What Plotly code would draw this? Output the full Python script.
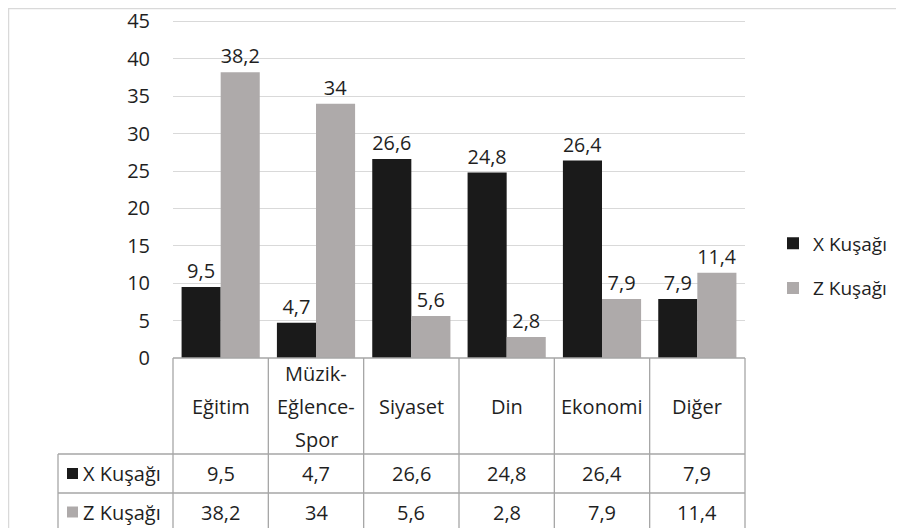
import plotly.graph_objects as go

# ---------------- data ----------------
categories = ["Eğitim", "Müzik-<br>Eğlence-<br>Spor", "Siyaset", "Din", "Ekonomi", "Diğer"]
series_names = ["X Kuşağı", "Z Kuşağı"]
x_kusagi = [9.5, 4.7, 26.6, 24.8, 26.4, 7.9]
z_kusagi = [38.2, 34, 5.6, 2.8, 7.9, 11.4]
y_ticks = [0, 5, 10, 15, 20, 25, 30, 35, 40, 45]

# ---------------- style ----------------
FONT = "Open Sans"
FS = 20
TXT = "#1f1f1f"
COL_X = "#1a1a1a"
COL_Z = "#aeaaaa"
GRID = "#d9d9d9"
TABLE_LINE = "#a6a6a6"

OFF = 8  # page body margin in the browser
W, H = 904 - OFF, 528 - OFF
# target geometry in page pixels
P_LEFT, P_RIGHT, P_TOP, P_ZERO = 173, 745, 19, 358
Y_MAX = 45.33
L = P_LEFT - OFF
R = W - (P_RIGHT - OFF)
T = P_TOP - OFF
B = H - (P_ZERO - OFF)
plot_w = W - L - R
plot_h = H - T - B


def fmt(v):
    return f"{v:g}".replace(".", ",")


def px_x(p):  # page pixel -> paper x
    return (p - OFF - L) / plot_w


def px_y(p):  # page pixel -> paper y
    return (H - B - (p - OFF)) / plot_h


fig = go.Figure()
for name, vals, col in [(series_names[0], x_kusagi, COL_X), (series_names[1], z_kusagi, COL_Z)]:
    fig.add_trace(go.Bar(
        x=categories, y=vals, name=name, marker=dict(color=col, line=dict(width=0)),
        text=[fmt(v) for v in vals], textposition="outside", cliponaxis=False,
        textfont=dict(family=FONT, size=FS, color=TXT), legendgroup=name,
    ))

shapes = []
annotations = []

# chart-area border
shapes.append(dict(type="rect", xref="paper", yref="paper", x0=px_x(8.5), x1=px_x(920),
                    y0=px_y(540), y1=px_y(8.5), line=dict(color=GRID, width=1.5), layer="below"))

# data table geometry (page pixels)
row_top = P_ZERO
row1 = 454
row2 = 493
row_bot = 531
key_left = 58

n = len(categories)
for i in range(n + 1):
    shapes.append(dict(type="line", xref="paper", yref="paper", x0=i / n, x1=i / n,
                       y0=px_y(row_top), y1=px_y(row_bot), line=dict(color=TABLE_LINE, width=1.3)))
shapes.append(dict(type="line", xref="paper", yref="paper", x0=px_x(key_left), x1=px_x(key_left),
                   y0=px_y(row1), y1=px_y(row_bot), line=dict(color=TABLE_LINE, width=1.3)))
shapes.append(dict(type="line", xref="paper", yref="paper", x0=0, x1=1,
                   y0=px_y(row_top), y1=px_y(row_top), line=dict(color=TABLE_LINE, width=1.3)))
for yy in (row1, row2, row_bot):
    shapes.append(dict(type="line", xref="paper", yref="paper", x0=px_x(key_left), x1=1,
                       y0=px_y(yy), y1=px_y(yy), line=dict(color=TABLE_LINE, width=1.3)))

# header texts
hdr_c = (row_top + row1) / 2 + 0.5
for cat in categories:
    lines = cat.split("<br>")
    m = len(lines)
    for j, ln in enumerate(lines):
        yp = hdr_c + (j - (m - 1) / 2) * 33
        annotations.append(dict(x=cat, xref="x", y=px_y(yp), yref="paper", text=ln, showarrow=False,
                                font=dict(family=FONT, size=FS, color=TXT), xanchor="center", yanchor="middle"))

# value rows
for (yy0, yy1), name, vals, col in [((row1, row2), series_names[0], x_kusagi, COL_X),
                                     ((row2, row_bot), series_names[1], z_kusagi, COL_Z)]:
    yc = (yy0 + yy1) / 2
    for cat, v in zip(categories, vals):
        annotations.append(dict(x=cat, xref="x", y=px_y(yc), yref="paper", text=fmt(v), showarrow=False,
                                font=dict(family=FONT, size=FS, color=TXT), xanchor="center", yanchor="middle"))
    shapes.append(dict(type="rect", xref="paper", yref="paper", x0=px_x(67), x1=px_x(78),
                       y0=px_y(yc + 5.5), y1=px_y(yc - 5.5), fillcolor=col, line=dict(width=0)))
    annotations.append(dict(x=px_x(81), xref="paper", y=px_y(yc), yref="paper", text=name, showarrow=False,
                            font=dict(family=FONT, size=FS, color=TXT), xanchor="left", yanchor="middle"))

fig.update_layout(
    width=W, height=H,
    margin=dict(l=L, r=R, t=T, b=B, pad=0, autoexpand=False),
    paper_bgcolor="white", plot_bgcolor="white",
    barmode="group", bargap=0.18, bargroupgap=0,
    font=dict(family=FONT, size=FS, color=TXT),
    xaxis=dict(showticklabels=False, showgrid=False, showline=False, zeroline=False, ticks=""),
    yaxis=dict(range=[0, Y_MAX], tickvals=y_ticks, ticktext=[str(v) for v in y_ticks],
               showgrid=True, gridcolor=GRID, gridwidth=1.3, zeroline=False, showline=False,
               ticks="", ticklabelstandoff=22, ticklabeloverflow="allow",
               tickfont=dict(family=FONT, size=FS, color=TXT)),
    legend=dict(x=px_x(773), xanchor="left", y=px_y(266), yanchor="middle",
                font=dict(family=FONT, size=19, color=TXT), tracegroupgap=17,
                bgcolor="rgba(0,0,0,0)", borderwidth=0),
    shapes=shapes,
    annotations=annotations,
)

fig.write_html("out.html")
